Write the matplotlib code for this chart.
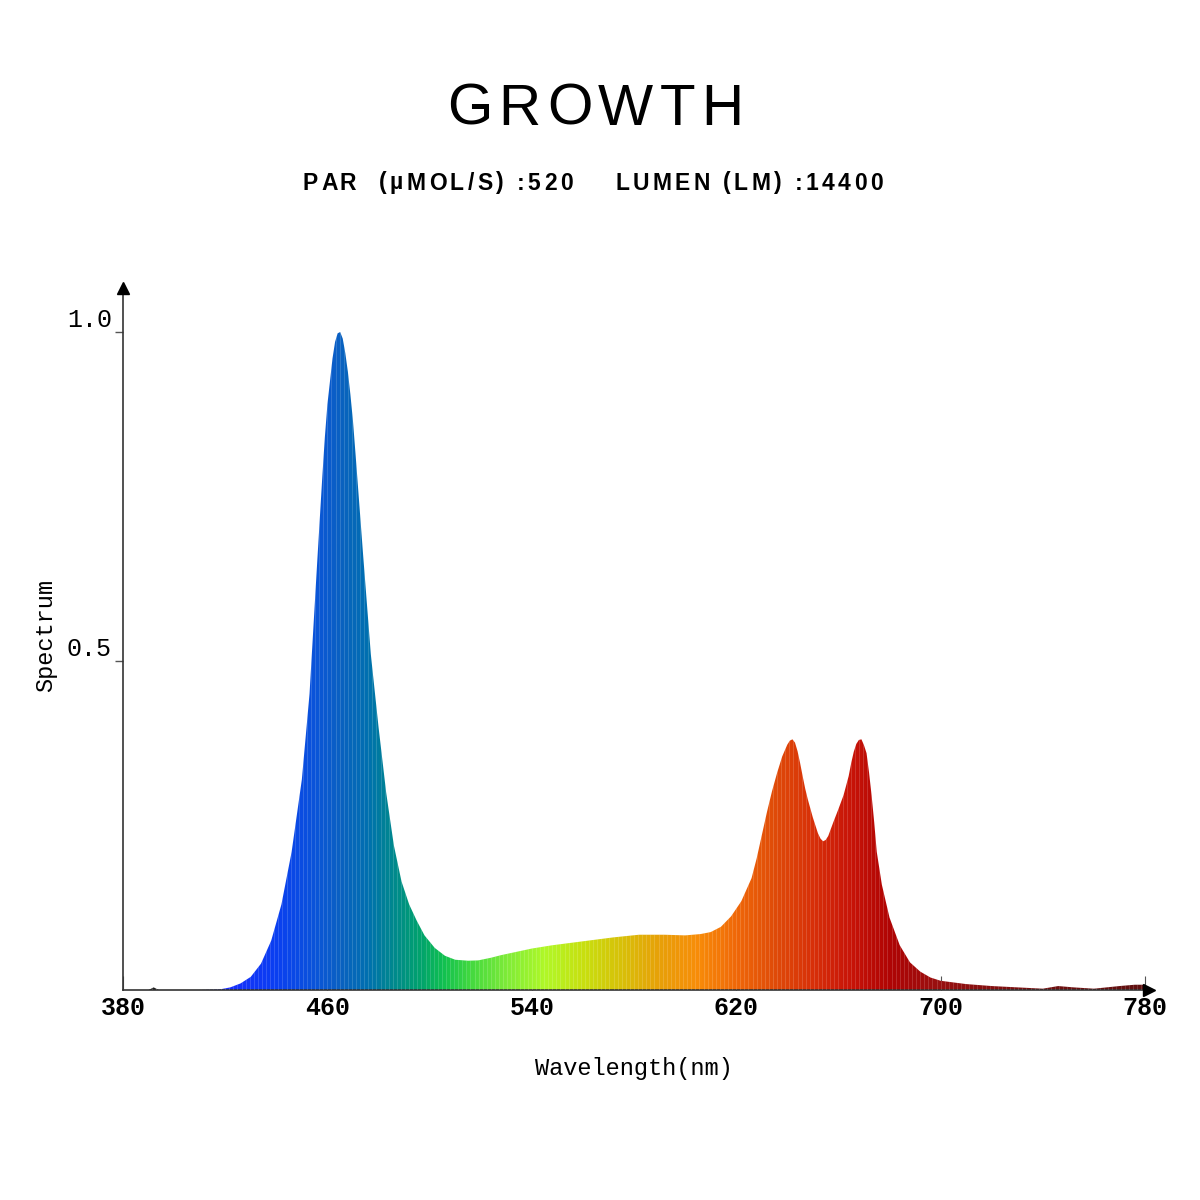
import matplotlib
matplotlib.use("Agg")
import matplotlib.pyplot as plt
from matplotlib.colors import LinearSegmentedColormap
import numpy as np

# spectrum (nm, relative intensity)
wavelength = [380, 390, 392, 394, 400, 410, 418, 422, 426, 430, 434, 438, 442, 446,
              450, 453, 456, 458, 459, 460, 461, 462, 463, 464, 465, 466, 467, 468,
              469, 470, 471, 474, 477, 480, 483, 486, 489, 492, 495, 498, 502, 506,
              510, 515, 519, 524, 528, 534, 540, 548, 556, 564, 572, 582, 592, 600,
              606, 610, 614, 618, 622, 626, 628, 630, 632, 634, 636, 638, 640, 641,
              642, 643, 644, 645, 646, 647, 648, 650, 652, 653, 654, 655, 656, 658,
              660, 662, 664, 665, 666, 667, 668, 669, 670, 671, 672, 673, 674, 675,
              677, 680, 684, 688, 692, 696, 700, 710, 720, 730, 740, 746, 752, 760,
              770, 776, 780]
spectrum = [0, 0, 0.004, 0, 0, 0, 0.001, 0.004, 0.01, 0.02, 0.04, 0.075, 0.13, 0.21,
            0.32, 0.45, 0.65, 0.78, 0.84, 0.89, 0.925, 0.96, 0.985, 0.998, 1.0, 0.99, 0.968, 0.94,
            0.905, 0.865, 0.815, 0.66, 0.51, 0.40, 0.30, 0.22, 0.165, 0.13, 0.105, 0.083, 0.064, 0.052,
            0.046, 0.0445, 0.045, 0.049, 0.053, 0.058, 0.063, 0.068, 0.072, 0.076, 0.08, 0.084, 0.084, 0.083,
            0.085, 0.088, 0.096, 0.112, 0.135, 0.17, 0.2, 0.235, 0.27, 0.302, 0.33, 0.355, 0.373, 0.379,
            0.381, 0.376, 0.363, 0.345, 0.325, 0.306, 0.29, 0.262, 0.238, 0.23, 0.226, 0.228, 0.234, 0.255,
            0.275, 0.296, 0.325, 0.345, 0.362, 0.374, 0.38, 0.381, 0.372, 0.36, 0.33, 0.295, 0.255, 0.21,
            0.16, 0.11, 0.068, 0.042, 0.028, 0.019, 0.014, 0.009, 0.006, 0.004, 0.002, 0.006, 0.004, 0.002,
            0.006, 0.008, 0.008]

x_ticks = [380, 460, 540, 620, 700, 780]
y_ticks = [0.5, 1.0]
y_ticklabels = ["0.5", "1.0"]

title = "GROWTH"
subtitle = "PAR  (µMOL/S) :520    LUMEN (LM) :14400"

# colour of the fill along the wavelength axis
color_stops = [(380, "#202020"), (405, "#202020"), (418, "#1a2cff"), (440, "#0a40f0"),
               (455, "#0a55d8"), (465, "#0a62c0"), (475, "#0070b0"), (485, "#00888e"),
               (495, "#00a070"), (505, "#10c050"), (515, "#40d840"), (530, "#80ec38"),
               (545, "#b0f828"), (560, "#c8e010"), (575, "#d8c008"), (590, "#e8a008"),
               (605, "#f88c08"), (620, "#f06808"), (635, "#e04c08"), (650, "#d83008"),
               (665, "#c81408"), (680, "#b00404"), (700, "#981010"), (740, "#701010"),
               (780, "#601010")]

lo, hi = 380, 780
ytop = 1.0669
cmap = LinearSegmentedColormap.from_list(
    "spec", [((w - lo) / (hi - lo), c) for w, c in color_stops])

fig = plt.figure(figsize=(12, 12), dpi=100)
ax = fig.add_axes([0.1025, 0.175, 0.8517, 0.585])
ax.set_xlim(lo, hi)
ax.set_ylim(0, ytop)

# filled spectrum with gradient
poly = ax.fill_between(wavelength, spectrum, 0, facecolor="none", edgecolor="none")
grad = np.linspace(0, 1, 800).reshape(1, -1)
img = ax.imshow(grad, cmap=cmap, aspect="auto", extent=[lo, hi, 0, ytop],
                origin="lower", zorder=2)
clip = poly.get_paths()[0]
img.set_clip_path(clip, transform=ax.transData)

# faint vertical stripes
stripes = ax.vlines(np.arange(lo, hi, 1.6), 0, 1.05, color="white", lw=0.6, alpha=0.18, zorder=3)
stripes.set_clip_path(clip, transform=ax.transData)

# axes styling
for s in ["top", "right"]:
    ax.spines[s].set_visible(False)
ax.spines["left"].set_color("#333333")
ax.spines["bottom"].set_color("#333333")
ax.spines["left"].set_linewidth(1.2)
ax.spines["bottom"].set_linewidth(1.2)
ax.plot(1.004, 0, marker=">", color="black", markersize=9, transform=ax.transAxes, clip_on=False, zorder=5)
ax.plot(0, 1.0, marker="^", color="black", markersize=9, transform=ax.transAxes, clip_on=False, zorder=5)
ax.set_axisbelow(True)

ax.set_xticks(x_ticks)
ax.set_xticklabels([str(t) for t in x_ticks], fontfamily="Liberation Mono",
                   fontweight="bold", fontsize=18)
ax.tick_params(axis="x", direction="in", length=10, width=0.8, color="#555555", pad=4)

ax.set_yticks(y_ticks)
ax.set_yticklabels(y_ticklabels, fontfamily="Liberation Mono", fontsize=18)
ax.tick_params(axis="y", direction="out", length=6, width=1, color="#555555", pad=2)
for lab in ax.get_yticklabels():
    lab.set_verticalalignment("bottom")

ax.set_xlabel("Wavelength(nm)", fontfamily="Liberation Mono", fontsize=17, labelpad=27)
ax.set_ylabel("Spectrum", fontfamily="Liberation Mono", fontsize=17)
ax.yaxis.set_label_coords(-0.064, 0.505)


def spaced_text(x_center, y, text, tracking, **kw):
    """Draw text centred at x_center (figure fraction) with extra letter spacing in px."""
    renderer = fig.canvas.get_renderer()
    W = fig.bbox.width

    def width(s):
        if not s:
            return 0.0
        t = fig.text(0, 0, s, **kw)
        w = t.get_window_extent(renderer).width
        t.remove()
        return w

    total = width(text) + tracking * (len(text) - 1)
    x0 = x_center * W - total / 2
    for i, ch in enumerate(text):
        if ch == " ":
            continue
        xpx = x0 + width(text[:i]) + tracking * i
        fig.text(xpx / W, y, ch, ha="left", va="center", **kw)


spaced_text(0.496, 0.9085, title, 6, fontsize=42, fontfamily="Liberation Sans")
spaced_text(0.494, 0.8475, subtitle, 3.4, fontsize=16.5, fontweight="bold",
            fontfamily="Liberation Sans")

fig.savefig("out.png", dpi=100, facecolor="white")
